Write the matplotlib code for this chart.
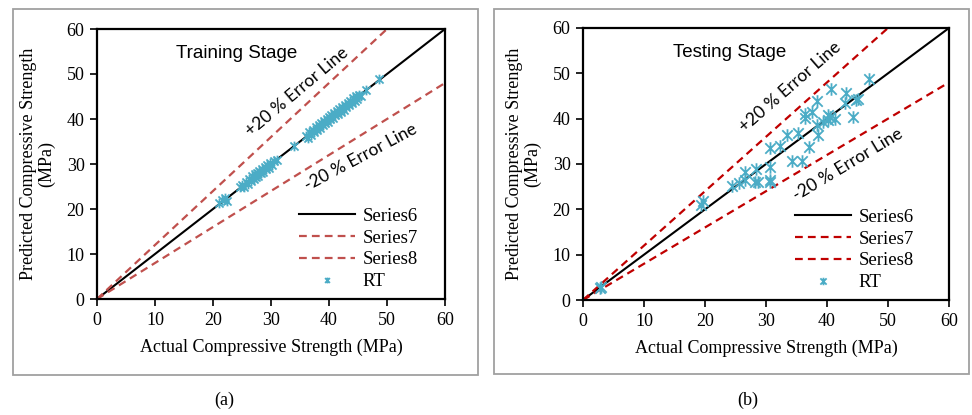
import matplotlib.pyplot as plt
from matplotlib.path import Path
from matplotlib.patches import Rectangle


# Training stage: actual vs predicted strength (MPa)
train_actual = [21.0, 21.6, 22.1, 22.4, 24.6, 25.0, 25.3, 25.7, 26.0, 26.2, 26.5, 26.8,
                27.0, 27.2, 27.4, 27.6, 27.8, 28.0, 28.2, 28.4, 28.6, 28.9, 29.1, 29.3,
                29.6, 29.9, 30.2, 30.5, 31.0, 34.0, 36.0, 36.3, 36.6, 36.9, 37.2, 37.4,
                37.7, 37.9, 38.2, 38.4, 38.6, 38.9, 39.1, 39.3, 39.6, 39.8, 40.0, 40.2,
                40.4, 40.7, 40.9, 41.1, 41.3, 41.6, 41.8, 42.0, 42.3, 42.5, 42.7, 43.0,
                43.2, 43.4, 43.7, 43.9, 44.1, 44.4, 44.6, 44.9, 45.2, 45.5, 46.3, 48.6]
train_pred = [21.3, 21.9, 22.4, 21.7, 24.8, 25.4, 24.9, 26.1, 25.6, 26.6, 26.2, 27.3,
              26.7, 27.8, 27.1, 28.0, 27.4, 28.4, 27.9, 28.8, 28.2, 29.3, 28.8, 29.7,
              29.2, 30.3, 29.8, 30.6, 30.9, 34.1, 36.3, 35.8, 37.0, 36.5, 37.6, 37.0,
              38.2, 37.5, 38.6, 38.0, 39.1, 38.6, 39.5, 39.0, 40.1, 39.4, 40.4, 39.9,
              40.9, 40.3, 41.4, 40.8, 41.7, 41.2, 42.3, 41.6, 42.6, 42.1, 43.1, 42.7,
              43.6, 43.1, 44.1, 43.6, 44.6, 44.0, 45.0, 44.5, 45.4, 45.2, 46.4, 48.8]

# Testing stage
test_actual = [2.8, 2.9, 19.3, 19.6, 24.4, 25.5, 26.6, 26.6, 28.2, 28.7, 28.4, 30.7,
               30.7, 30.7, 30.7, 32.3, 33.5, 35.2, 34.2, 35.9, 36.4, 36.4, 37.5, 37.1,
               38.3, 38.6, 38.3, 39.4, 40.2, 40.5, 41.3, 40.2, 40.7, 43.1, 43.0, 44.2,
               44.8, 45.0, 46.9]
test_pred = [2.6, 2.8, 21.0, 21.8, 25.2, 25.7, 28.3, 26.5, 26.1, 26.1, 29.0, 29.4,
             26.4, 26.0, 33.6, 34.0, 36.5, 36.8, 30.7, 30.7, 41.0, 40.1, 41.5, 33.7,
             43.9, 36.5, 38.6, 39.3, 39.7, 40.4, 39.9, 40.8, 46.5, 45.7, 43.4, 40.4,
             44.1, 44.3, 48.7]

# reference lines: equality and +/-20 %
line_x = [0, 60]
equal_y = [0, 60]
plus20_y = [0, 72]
minus20_y = [0, 48]

ticks = [0, 10, 20, 30, 40, 50, 60]

# star marker: an x with a vertical bar through it
star = Path([(-1, -1), (1, 1), (-1, 1), (1, -1), (0, -1.2), (0, 1.2)],
            [Path.MOVETO, Path.LINETO, Path.MOVETO, Path.LINETO, Path.MOVETO, Path.LINETO])

SERIF = 'Liberation Serif'
BLUE = '#4BACC6'


def panel(fig, rect, actual, pred, red, title, msize, labels, leg_anchor):
    ax = fig.add_axes(rect)
    ax.plot(line_x, equal_y, color='black', lw=1.5, label='Series6')
    ax.plot(line_x, plus20_y, color=red, lw=1.6, dashes=(3.5, 2.3), label='Series7')
    ax.plot(line_x, minus20_y, color=red, lw=1.6, dashes=(3.5, 2.3), label='Series8')
    ax.plot(actual, pred, ls='none', marker=star, ms=msize, mew=1.3,
            color=BLUE, label='RT')

    ax.set_xlim(0, 60)
    ax.set_ylim(0, 60)
    ax.set_xticks(ticks)
    ax.set_yticks(ticks)
    ax.tick_params(direction='out', length=5, width=1.2, labelsize=13, pad=4)
    for lab in ax.get_xticklabels() + ax.get_yticklabels():
        lab.set_family(SERIF)
    for s in ax.spines.values():
        s.set_linewidth(1.6)

    ax.set_xlabel('Actual Compressive Strength (MPa)', family=SERIF, fontsize=13, labelpad=7)
    ax.set_ylabel('Predicted Compressive Strength\n(MPa)', family=SERIF, fontsize=13,
                  labelpad=8, linespacing=1.05)

    ax.legend(loc='lower right', bbox_to_anchor=leg_anchor, frameon=False,
              prop={'family': SERIF, 'size': 13.5}, handlelength=3.0,
              handletextpad=0.4, labelspacing=0.25, markerscale=0.6)

    ax.text(0.4, 0.91, title, transform=ax.transAxes, ha='center', va='center',
            family='Liberation Sans', fontsize=13.5)
    (x1, y1, r1), (x2, y2, r2) = labels
    ax.text(x1, y1, '+20 % Error Line', transform=ax.transAxes, ha='center', va='center',
            rotation=r1, rotation_mode='anchor', family='Lato', fontsize=12.5)
    ax.text(x2, y2, '-20 % Error Line', transform=ax.transAxes, ha='center', va='center',
            rotation=r2, rotation_mode='anchor', family='Lato', fontsize=12.5)
    return ax


def main():
    W, H = 972, 415
    fig = plt.figure(figsize=(W / 100, H / 100), dpi=100)

    # grey frames around each panel
    for (x0, y0, x1, y1) in [(13, 9, 478, 375), (494, 9, 969, 374)]:
        fig.patches.append(Rectangle((x0 / W, 1 - y1 / H), (x1 - x0) / W, (y1 - y0) / H,
                                     transform=fig.transFigure, fill=False,
                                     edgecolor='#A0A0A0', lw=1.3))

    panel(fig, [97 / W, 1 - 299 / H, 348 / W, 270 / H], train_actual, train_pred,
          '#C0504D', 'Training Stage', 7,
          [((297 - 97) / 348, (299 - 92) / 270, 40), ((361 - 97) / 348, (299 - 157) / 270, 28)],
          (0.97, -0.03))
    panel(fig, [583 / W, 1 - 300 / H, 366 / W, 272 / H], test_actual, test_pred,
          '#C00000', 'Testing Stage', 9,
          [((790 - 583) / 366, (300 - 87) / 272, 41), ((848 - 583) / 366, (300 - 165) / 272, 31)],
          (0.95, -0.03))

    fig.text(224 / W, 1 - 400 / H, '(a)', ha='center', va='center', family=SERIF, fontsize=13)
    fig.text(748 / W, 1 - 400 / H, '(b)', ha='center', va='center', family=SERIF, fontsize=13)

    fig.savefig('out.png', dpi=100)


if __name__ == "__main__":
    main()
